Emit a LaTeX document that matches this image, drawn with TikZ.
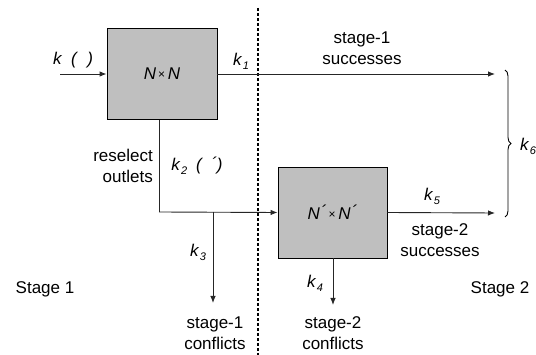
\documentclass[tikz,border=0pt]{standalone}
\usepackage{fontspec}
\setmainfont{Liberation Sans}
\usetikzlibrary{arrows.meta,decorations.pathreplacing}

% italic symbol with a small subscript
\newcommand{\ksub}[1]{\textit{k}\kern0.5pt\raisebox{-4pt}{\fontsize{11}{11}\selectfont\itshape #1}}

\begin{document}
\begin{tikzpicture}[x=1pt,y=-1pt,
  txt/.style={font=\fontsize{17}{20.5}\selectfont, align=center, inner sep=0pt},
  switchbox/.style={draw=black, line width=0.9pt, fill=black!25, minimum width=110pt, minimum height=91pt, inner sep=0pt, font=\fontsize{17}{20}\selectfont\itshape},
  flow/.style={draw=black!85, line width=0.9pt},
  arr/.style={flow, -{Latex[length=7pt,width=5.5pt]}},
  divider/.style={draw=black, line width=1.8pt, dash pattern=on 3pt off 2pt}
]
\useasboundingbox (0,0) rectangle (536,355);

% switching fabrics
\node[switchbox] (sw1) at (162,74) {N{\fontsize{12}{12}\selectfont$\,$\raisebox{1pt}{\upshape×}}\,N};
\node[switchbox, minimum width=109pt] (sw2) at (332.5,212.5) {N\kern1pt\raisebox{2pt}{´}{\fontsize{12}{12}\selectfont$\,$\raisebox{1pt}{\upshape×}}\,N\kern1pt\raisebox{2pt}{´}};

% free ends of the flows
\coordinate (src) at (60,74);
\coordinate (out1) at (495,74);
\coordinate (out2) at (495,213);
\coordinate (fork) at (159,212);
\coordinate (split) at (213,212);
\coordinate (conf1) at (213,303);
\coordinate (conf2) at (333,305);
\coordinate (divtop) at (258,8);
\coordinate (divbot) at (258,355);
\coordinate (bracetop) at (505,70);
\coordinate (bracebot) at (505,217);

% stage divider
\draw[divider] (divtop) -- (divbot);

% flows
\draw[arr] (src) -- (sw1.west);
\draw[arr] (sw1.east) -- (out1);
\draw[flow] (sw1.south -| fork) -- (fork);
\draw[arr] (fork) -- (sw2.west);
\draw[arr] (split) -- (conf1);
\draw[arr] (sw2.east) -- (out2);
\draw[arr] (sw2.south -| conf2) -- (conf2);

% combined successes
\draw[draw=black, line width=0.9pt, decorate, decoration={brace, amplitude=6pt}] (bracetop) -- (bracebot);

% labels
\node[txt] (lin) at (73,60) {\textit{k}\hspace{9pt}\textit{(}\hspace{9pt}\textit{)}};
\node[txt] (l1) at (241,61) {\ksub{1}};
\node[txt] (s1) at (362,48) {stage-1\\successes};
\node[txt] (l6) at (528,146) {\ksub{6}};
\node[txt, anchor=east, align=right] (resel) at (153,166) {reselect\\outlets};
\node[txt] (l2) at (197,166) {\ksub{2}\hspace{9pt}\textit{(}\hspace{8pt}\raisebox{1pt}{\textit{´}}\textit{)}};
\node[txt] (l3) at (198,252) {\ksub{3}};
\node[txt] (st1) at (45,289) {Stage 1};
\node[txt] (c1) at (215,333) {stage-1\\conflicts};
\node[txt] (l5) at (432,196) {\ksub{5}};
\node[txt] (s2) at (440,240) {stage-2\\successes};
\node[txt] (l4) at (315,283) {\ksub{4}};
\node[txt] (c2) at (333,333) {stage-2\\conflicts};
\node[txt] (st2) at (500,289) {Stage 2};
\end{tikzpicture}
\end{document}
